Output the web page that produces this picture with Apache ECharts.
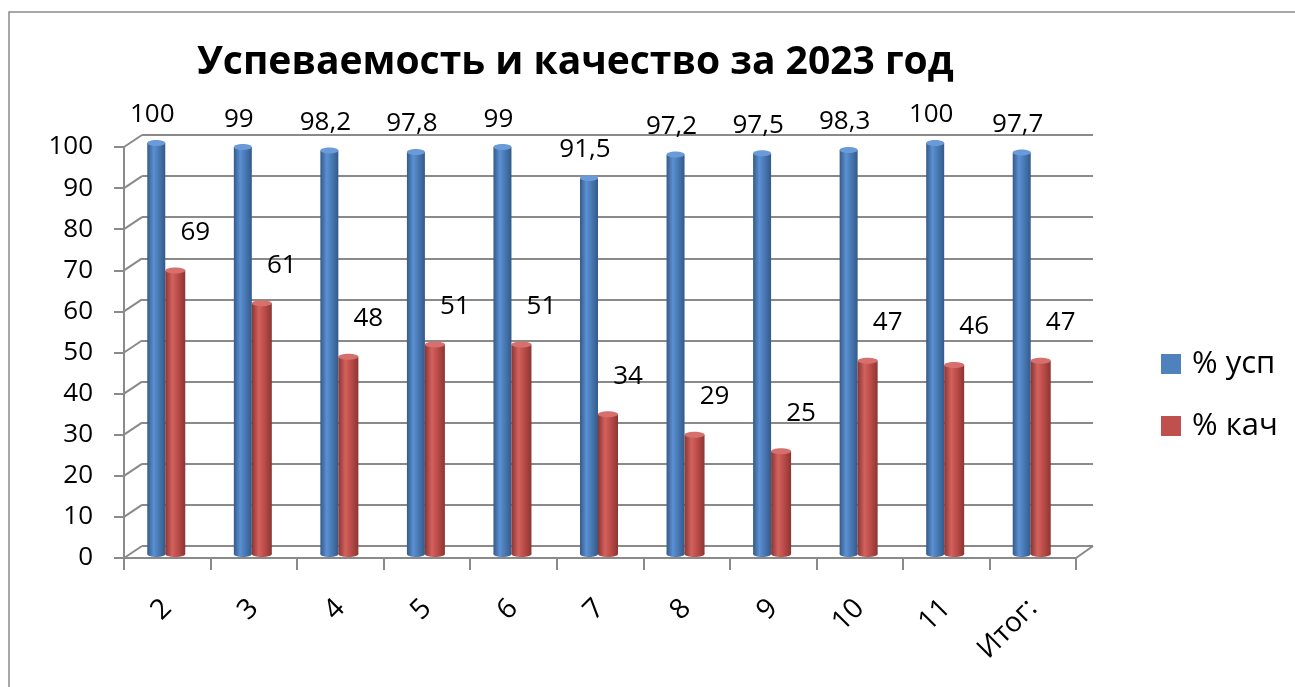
<!DOCTYPE html>
<html>
<head>
<meta charset="utf-8">
<script src="https://cdn.jsdelivr.net/npm/echarts@6/dist/echarts.min.js"></script>
<style>
html,body{margin:0;padding:0;background:#fff;}
#chart{width:1295px;height:687px;}
</style>
</head>
<body>
<div id="chart"></div>
<script>
const categories = ['2', '3', '4', '5', '6', '7', '8', '9', '10', '11', 'Итог:'];
const uspValues = [100, 99, 98.2, 97.8, 99, 91.5, 97.2, 97.5, 98.3, 100, 97.7];
const kachValues = [69, 61, 48, 51, 51, 34, 29, 25, 47, 46, 47];
const yTicks = [0, 10, 20, 30, 40, 50, 60, 70, 80, 90, 100];
const seriesNames = ['% усп', '% кач'];

const FONT = '"Open Sans", "Noto Sans", sans-serif';
const GRAY = '#8a8a8a';

function fmt(v) { return String(v).replace('.', ','); }

function cylinder(offsetL, width, dark, mid, light, topColor, labelDx, labelDy) {
  return function (params, api) {
    const idx = api.value(0), v = api.value(1);
    const top = api.coord([idx, v]);
    const base = api.coord([idx, 0]);
    const x = top[0] + offsetL;
    const grad = new echarts.graphic.LinearGradient(0, 0, 1, 0, [
      { offset: 0, color: dark },
      { offset: 0.35, color: light },
      { offset: 0.6, color: mid },
      { offset: 1, color: dark }
    ]);
    return {
      type: 'group',
      children: [
        { type: 'ellipse', shape: { cx: x + width / 2, cy: base[1], rx: width / 2, ry: 3 }, style: { fill: grad } },
        { type: 'rect', shape: { x: x, y: top[1], width: width, height: base[1] - top[1] }, style: { fill: grad } },
        { type: 'ellipse', shape: { cx: x + width / 2, cy: top[1], rx: width / 2, ry: 3 }, style: { fill: topColor } },
        { type: 'text', style: { text: fmt(v), x: x + width / 2 + labelDx, y: top[1] + labelDy, align: 'center', verticalAlign: 'middle', fontSize: 26, fontFamily: FONT, fill: '#000' } }
      ]
    };
  };
}

const chart = echarts.init(document.getElementById('chart'), null, { renderer: 'canvas' });
chart.setOption({
  animation: false,
  backgroundColor: '#fff',
  title: {
    text: 'Успеваемость и качество за 2023 год',
    left: 192, top: 38,
    textStyle: { fontFamily: FONT, fontWeight: 'bold', fontSize: 39, color: '#000' }
  },
  legend: {
    orient: 'vertical', left: 1161, top: 348, padding: 0,
    itemWidth: 20, itemHeight: 20, itemGap: 30,
    icon: 'rect',
    textStyle: { fontFamily: FONT, fontSize: 31, lineHeight: 32, color: '#000', padding: [0, 0, 0, 6] },
    data: seriesNames
  },
  graphic: [
    { type: 'rect', shape: { x: 9, y: 12, width: 1400, height: 800 }, style: { fill: 'none', stroke: '#8c8c8c', lineWidth: 1.5 }, silent: true, z: -10 }
  ],
  grid: [
    { left: 142, top: 135, width: 951, height: 411 },
    { left: 124, top: 147, width: 952, height: 411 },
    { left: 124, top: 143, width: 952, height: 411 }
  ],
  xAxis: [
    { gridIndex: 0, type: 'category', data: categories, show: false },
    {
      gridIndex: 1, type: 'category', data: categories, boundaryGap: true,
      axisLine: { show: true, lineStyle: { color: GRAY, width: 2 } },
      axisTick: { show: true, length: 12, lineStyle: { color: GRAY, width: 2 } },
      axisLabel: { rotate: 45, margin: 46, fontSize: 28, fontFamily: FONT, color: '#000' }
    },
    { gridIndex: 2, type: 'category', data: categories, show: false }
  ],
  yAxis: [
    {
      gridIndex: 0, type: 'value', min: 0, max: 100, interval: 10,
      axisLine: { show: false }, axisTick: { show: false }, axisLabel: { show: false },
      splitLine: { show: true, lineStyle: { color: GRAY, width: 2 } }
    },
    {
      gridIndex: 1, type: 'value', min: 0, max: 100, interval: 10,
      axisLine: { show: true, lineStyle: { color: GRAY, width: 2 } },
      axisTick: { show: true, length: 10, lineStyle: { color: GRAY, width: 2 } },
      axisLabel: { margin: 31, fontSize: 26, fontFamily: FONT, color: '#000' },
      splitLine: { show: false }
    },
    { gridIndex: 2, type: 'value', min: 0, max: 100, interval: 10, show: false, splitLine: { show: false } }
  ],
  series: [
    {
      type: 'custom', name: 'frame', xAxisIndex: 1, yAxisIndex: 1, silent: true, z: 1,
      data: yTicks.map(v => [0, v]),
      renderItem: function (params, api) {
        const p = api.coord([0, api.value(1)]);
        const x0 = params.coordSys.x;
        const children = [
          { type: 'line', shape: { x1: x0, y1: p[1], x2: x0 + 18, y2: p[1] - 12 }, style: { stroke: GRAY, lineWidth: 2 } }
        ];
        if (api.value(1) === 0) {
          const x1 = x0 + params.coordSys.width;
          children.push({ type: 'line', shape: { x1: x1, y1: p[1], x2: x1 + 17, y2: p[1] - 12 }, style: { stroke: GRAY, lineWidth: 2 } });
        }
        return { type: 'group', children: children };
      }
    },
    {
      type: 'custom', name: seriesNames[0], xAxisIndex: 2, yAxisIndex: 2, z: 3,
      itemStyle: { color: '#4F81BD' },
      data: uspValues.map((v, i) => [i, v]),
      renderItem: cylinder(-20, 18, '#345a88', '#4a7cb8', '#5b90d3', '#6a9bd8', -4, -28)
    },
    {
      type: 'custom', name: seriesNames[1], xAxisIndex: 2, yAxisIndex: 2, z: 4,
      itemStyle: { color: '#C0504D' },
      data: kachValues.map((v, i) => [i, v]),
      renderItem: cylinder(-2, 20, '#8c3532', '#bf4e4b', '#d2625e', '#d6706c', 20, -38)
    }
  ]
});
</script>
</body>
</html>
